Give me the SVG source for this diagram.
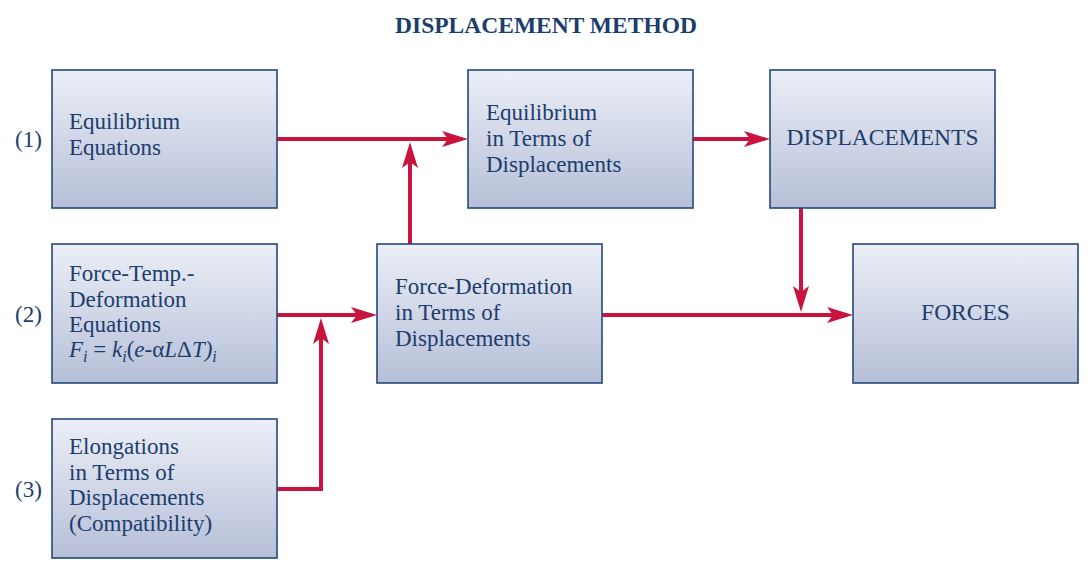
<svg xmlns="http://www.w3.org/2000/svg" width="1092" height="568" viewBox="0 0 1092 568">
  <defs>
    <linearGradient id="boxfill" x1="0" y1="0" x2="0" y2="1">
      <stop offset="0" stop-color="#eceff7"/>
      <stop offset="1" stop-color="#b6bfd8"/>
    </linearGradient>
    <marker id="arrow" markerUnits="userSpaceOnUse" markerWidth="28" markerHeight="18" viewBox="0 -9 28 18" refX="6" refY="0" orient="auto">
      <path d="M0,-8 L26,0 L0,8 L6,0 Z" fill="#c8143f"/>
    </marker>
    <style>
      .box { fill: url(#boxfill); stroke: #234878; stroke-width: 1.6; }
      .t { font-family: "Liberation Serif", "Times New Roman", serif; font-size: 23px; fill: #1c3d6e; }
      .title { font-family: "Liberation Serif", "Times New Roman", serif; font-size: 23.5px; font-weight: bold; fill: #1c3d6e; }
      .big { font-size: 23.5px; }
      .it { font-style: italic; }
      .sub { font-size: 16px; font-style: italic; }
      .conn { fill: none; stroke: #c8143f; stroke-width: 4; }
    </style>
  </defs>
  <rect width="1092" height="568" fill="#ffffff"/>

  <text class="title" x="546" y="33" text-anchor="middle">DISPLACEMENT METHOD</text>

  <g id="labels">
    <text class="t" x="15" y="147">(1)</text>
    <text class="t" x="15" y="322">(2)</text>
    <text class="t" x="15" y="497">(3)</text>
  </g>

  <g id="connectors">
    <path class="conn" d="M277,139 H448" marker-end="url(#arrow)"/>
    <path class="conn" d="M410,244 V162" marker-end="url(#arrow)"/>
    <path class="conn" d="M277,315 H357" marker-end="url(#arrow)"/>
    <path class="conn" d="M277,489 H321 V338" marker-end="url(#arrow)"/>
    <path class="conn" d="M693,139 H750" marker-end="url(#arrow)"/>
    <path class="conn" d="M801,208 V292" marker-end="url(#arrow)"/>
    <path class="conn" d="M602,315 H833" marker-end="url(#arrow)"/>
  </g>

  <g id="equilibrium-equations">
    <rect class="box" x="52" y="70" width="225" height="138"/>
    <text class="t" x="69" y="129">Equilibrium</text>
    <text class="t" x="69" y="155">Equations</text>
  </g>

  <g id="force-temp-deformation">
    <rect class="box" x="52" y="244" width="225" height="139"/>
    <text class="t" x="69" y="281">Force-Temp.-</text>
    <text class="t" x="69" y="307">Deformation</text>
    <text class="t" x="69" y="332">Equations</text>
    <text class="t" x="69" y="357"><tspan class="it">F</tspan><tspan class="sub" dy="5">i</tspan><tspan dy="-5"> = </tspan><tspan class="it">k</tspan><tspan class="sub" dy="5">i</tspan><tspan dy="-5">(</tspan><tspan class="it">e-</tspan><tspan>α</tspan><tspan class="it">L</tspan><tspan>Δ</tspan><tspan class="it">T)</tspan><tspan class="sub" dy="5">i</tspan></text>
  </g>

  <g id="elongations">
    <rect class="box" x="52" y="419" width="225" height="139"/>
    <text class="t" x="69" y="454">Elongations</text>
    <text class="t" x="69" y="480">in Terms of</text>
    <text class="t" x="69" y="505">Displacements</text>
    <text class="t" x="69" y="531">(Compatibility)</text>
  </g>

  <g id="equilibrium-displacements">
    <rect class="box" x="468" y="70" width="225" height="138"/>
    <text class="t" x="486" y="120">Equilibrium</text>
    <text class="t" x="486" y="146">in Terms of</text>
    <text class="t" x="486" y="172">Displacements</text>
  </g>

  <g id="force-deformation">
    <rect class="box" x="377" y="244" width="225" height="139"/>
    <text class="t" x="395" y="294">Force-Deformation</text>
    <text class="t" x="395" y="320">in Terms of</text>
    <text class="t" x="395" y="346">Displacements</text>
  </g>

  <g id="displacements">
    <rect class="box" x="770" y="70" width="225" height="138"/>
    <text class="t big" x="882.5" y="145" text-anchor="middle">DISPLACEMENTS</text>
  </g>

  <g id="forces">
    <rect class="box" x="853" y="244" width="225" height="139"/>
    <text class="t big" x="965.5" y="320" text-anchor="middle">FORCES</text>
  </g>
</svg>
